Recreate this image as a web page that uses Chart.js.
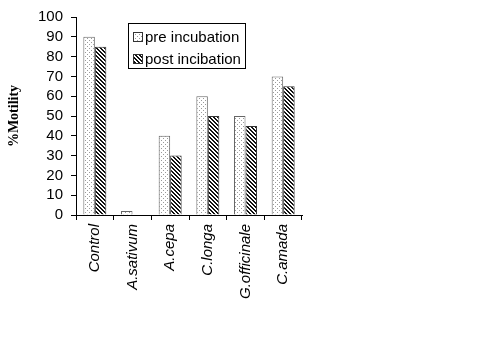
<!DOCTYPE html>
<html>
<head>
<meta charset="utf-8">
<script src="https://cdn.jsdelivr.net/npm/chart.js@4"></script>
<style>
  body { margin: 0; background: #fff; }
</style>
</head>
<body>
<canvas id="chart" width="500" height="350"></canvas>
<script>
/* ============ DATOS ============ */
const categorias = ["Control", "A.sativum", "A.cepa", "C.longa", "G.officinale", "C.amada"];
const preIncubacion = [90, 2, 40, 60, 50, 70];
const postIncubacion = [85, 0, 30, 50, 45, 65];
const etiquetasSeries = ["pre incubation", "post incibation"];

/* ============ PATRONES ============ */
function patronPuntos() {
  const c = document.createElement("canvas");
  c.width = 4; c.height = 4;
  const ctx = c.getContext("2d");
  ctx.fillStyle = "#ffffff";
  ctx.fillRect(0, 0, 4, 4);
  ctx.fillStyle = "#9a9a9a";
  ctx.fillRect(1, 0, 1, 1);
  ctx.fillRect(3, 2, 1, 1);
  return ctx.createPattern(c, "repeat");
}

function patronRayas() {
  const c = document.createElement("canvas");
  c.width = 4; c.height = 4;
  const ctx = c.getContext("2d");
  ctx.fillStyle = "#ffffff";
  ctx.fillRect(0, 0, 4, 4);
  ctx.fillStyle = "#111111";
  for (let i = 0; i < 4; i++) {
    ctx.fillRect(i, i, 1, 1);
    ctx.fillRect((i + 1) % 4, i, 1, 1);
  }
  return ctx.createPattern(c, "repeat");
}

const rellenoPre = patronPuntos();
const rellenoPost = patronRayas();

/* ============ LEYENDA ============ */
const leyendaCaja = {
  id: "leyendaCaja",
  afterDraw(chart) {
    const ctx = chart.ctx;
    ctx.save();
    ctx.fillStyle = "#ffffff";
    ctx.fillRect(128.5, 23.5, 117, 45);
    ctx.strokeStyle = "#000000";
    ctx.lineWidth = 1;
    ctx.strokeRect(128.5, 23.5, 117, 45);
    const rellenos = [rellenoPre, rellenoPost];
    ctx.font = "15px 'Liberation Sans', Arial, sans-serif";
    ctx.textBaseline = "middle";
    etiquetasSeries.forEach((txt, i) => {
      const y = 37 + i * 22;
      ctx.fillStyle = rellenos[i];
      ctx.fillRect(133.5, y - 4.5, 9, 9);
      ctx.strokeStyle = "#333";
      ctx.strokeRect(133.5, y - 4.5, 9, 9);
      ctx.fillStyle = "#000";
      ctx.fillText(txt, 145, y + 1);
    });
    ctx.restore();
  }
};

/* ============ GRÁFICA ============ */
Chart.defaults.font.family = "'Liberation Sans', Arial, sans-serif";
Chart.defaults.color = "#000";

new Chart(document.getElementById("chart"), {
  type: "bar",
  data: {
    labels: categorias,
    datasets: [
      {
        label: etiquetasSeries[0],
        data: preIncubacion,
        backgroundColor: rellenoPre,
        borderColor: "#666",
        borderWidth: 1,
        barPercentage: 1,
        categoryPercentage: 0.61
      },
      {
        label: etiquetasSeries[1],
        data: postIncubacion,
        backgroundColor: rellenoPost,
        borderColor: "#333",
        borderWidth: 1,
        barPercentage: 1,
        categoryPercentage: 0.61
      }
    ]
  },
  options: {
    responsive: false,
    animation: false,
    layout: { padding: { top: 15, right: 198, left: 0, bottom: 0 } },
    plugins: {
      legend: { display: false },
      tooltip: { enabled: false }
    },
    scales: {
      x: {
        afterFit: s => { s.height = 135; },
        border: { color: "#000", width: 1 },
        grid: { offset: true, drawOnChartArea: false, drawTicks: true, tickLength: 5, color: "#000" },
        ticks: {
          minRotation: 90,
          maxRotation: 90,
          autoSkip: false,
          padding: 4,
          font: { size: 15, style: "italic" },
          color: "#000"
        }
      },
      y: {
        min: 0,
        max: 100,
        afterFit: s => { s.width = 76; },
        border: { color: "#000", width: 1 },
        grid: { drawOnChartArea: false, drawTicks: true, tickLength: 5, color: "#000" },
        ticks: { stepSize: 10, autoSkip: false, padding: 8, font: { size: 15 }, color: "#000" },
        title: {
          display: true,
          text: "%Motility",
          font: { family: "'Liberation Serif', 'Times New Roman', serif", size: 14, weight: "bold" },
          padding: { top: 6, bottom: 0 },
          color: "#000"
        }
      }
    }
  },
  plugins: [leyendaCaja]
});
</script>
</body>
</html>
